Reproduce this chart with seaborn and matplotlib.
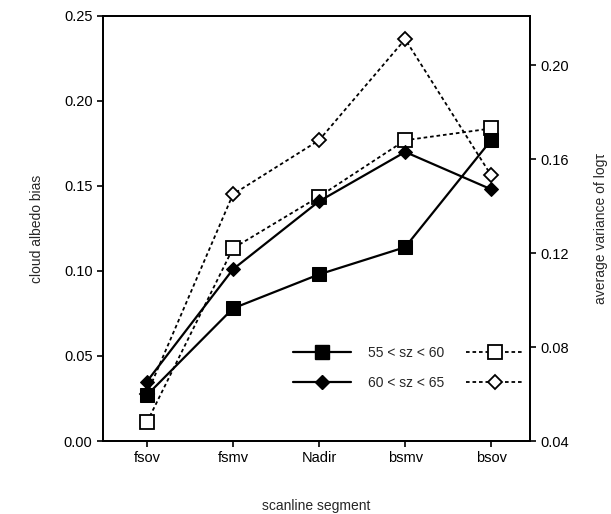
import numpy as np
import pandas as pd
import matplotlib
matplotlib.use("Agg")
import matplotlib.pyplot as plt
import seaborn as sns
from matplotlib.lines import Line2D

# data
segments = ["fsov", "fsmv", "Nadir", "bsmv", "bsov"]
bias_55_60 = [0.027, 0.078, 0.098, 0.114, 0.177]
bias_60_65 = [0.035, 0.101, 0.141, 0.170, 0.148]
var_55_60 = [0.048, 0.122, 0.144, 0.168, 0.173]
var_60_65 = [0.060, 0.145, 0.168, 0.211, 0.153]
labels = ["55 < sz < 60", "60 < sz < 65"]

sns.set_style("ticks")
plt.rcParams["font.family"] = ["Liberation Sans", "DejaVu Sans"]

df = pd.DataFrame({
    "pos": np.arange(len(segments)),
    "b1": bias_55_60, "b2": bias_60_65,
    "v1": var_55_60, "v2": var_60_65,
})

fig = plt.figure(figsize=(6.11, 5.14), dpi=100)
ax = fig.add_axes([0.1686, 0.142, 0.6988, 0.827])
ax2 = ax.twinx()

dot = (0, (2, 1.6))
sns.lineplot(data=df, x="pos", y="v1", ax=ax2, color="black", lw=1.3,
             linestyle=dot, marker="s", markersize=9.5, markerfacecolor="white",
             markeredgecolor="black", markeredgewidth=1.3)
sns.lineplot(data=df, x="pos", y="v2", ax=ax2, color="black", lw=1.3,
             linestyle=dot, marker="D", markersize=7.5, markerfacecolor="white",
             markeredgecolor="black", markeredgewidth=1.3)
sns.lineplot(data=df, x="pos", y="b1", ax=ax, color="black", lw=1.6,
             marker="s", markersize=9.5, markeredgecolor="black")
sns.lineplot(data=df, x="pos", y="b2", ax=ax, color="black", lw=1.6,
             marker="D", markersize=7.5, markeredgecolor="black")

ax.set_zorder(ax2.get_zorder() + 1)
ax.patch.set_visible(False)

ax.set_xlim(-0.51, 4.45)
ax.set_ylim(0, 0.25)
ax2.set_ylim(0.04, 0.2209)
ax.set_xticks(df["pos"])
ax.set_xticklabels(segments)
ax.set_yticks([0, 0.05, 0.10, 0.15, 0.20, 0.25])
ax.set_yticklabels([f"{v:.2f}" for v in [0, 0.05, 0.10, 0.15, 0.20, 0.25]])
ax2.set_yticks([0.04, 0.08, 0.12, 0.16, 0.20])
ax2.set_yticklabels([f"{v:.2f}" for v in [0.04, 0.08, 0.12, 0.16, 0.20]])

for a in (ax, ax2):
    for s in a.spines.values():
        s.set_visible(True)
        s.set_linewidth(1.3)
        s.set_color("black")
    a.tick_params(direction="out", length=4, width=1.2, labelsize=10.5, colors="black")

ax.set_xlabel("scanline segment", fontsize=10, labelpad=24)
ax.set_ylabel("cloud albedo bias", fontsize=10, labelpad=14)
ax2.set_ylabel("average variance of log\u03c4", fontsize=10, labelpad=18)

filled = [
    Line2D([], [], color="black", lw=1.6, marker="s", markersize=9.5),
    Line2D([], [], color="black", lw=1.6, marker="D", markersize=7.5),
]
hollow = [
    Line2D([], [], color="black", lw=1.3, linestyle=dot, marker="s", markersize=9.5,
           markerfacecolor="white", markeredgewidth=1.3),
    Line2D([], [], color="black", lw=1.3, linestyle=dot, marker="D", markersize=7.5,
           markerfacecolor="white", markeredgewidth=1.3),
]
leg1 = ax.legend(filled, labels, loc="lower left", bbox_to_anchor=(0.415, 0.09),
                 frameon=False, handlelength=4.2, handletextpad=1.2,
                 labelspacing=1.15, fontsize=10)
ax.add_artist(leg1)
ax.legend(hollow, ["", ""], loc="lower left", bbox_to_anchor=(0.82, 0.09),
          frameon=False, handlelength=4.2, handletextpad=0,
          labelspacing=1.15, fontsize=10)

fig.savefig("out.png", dpi=100)
